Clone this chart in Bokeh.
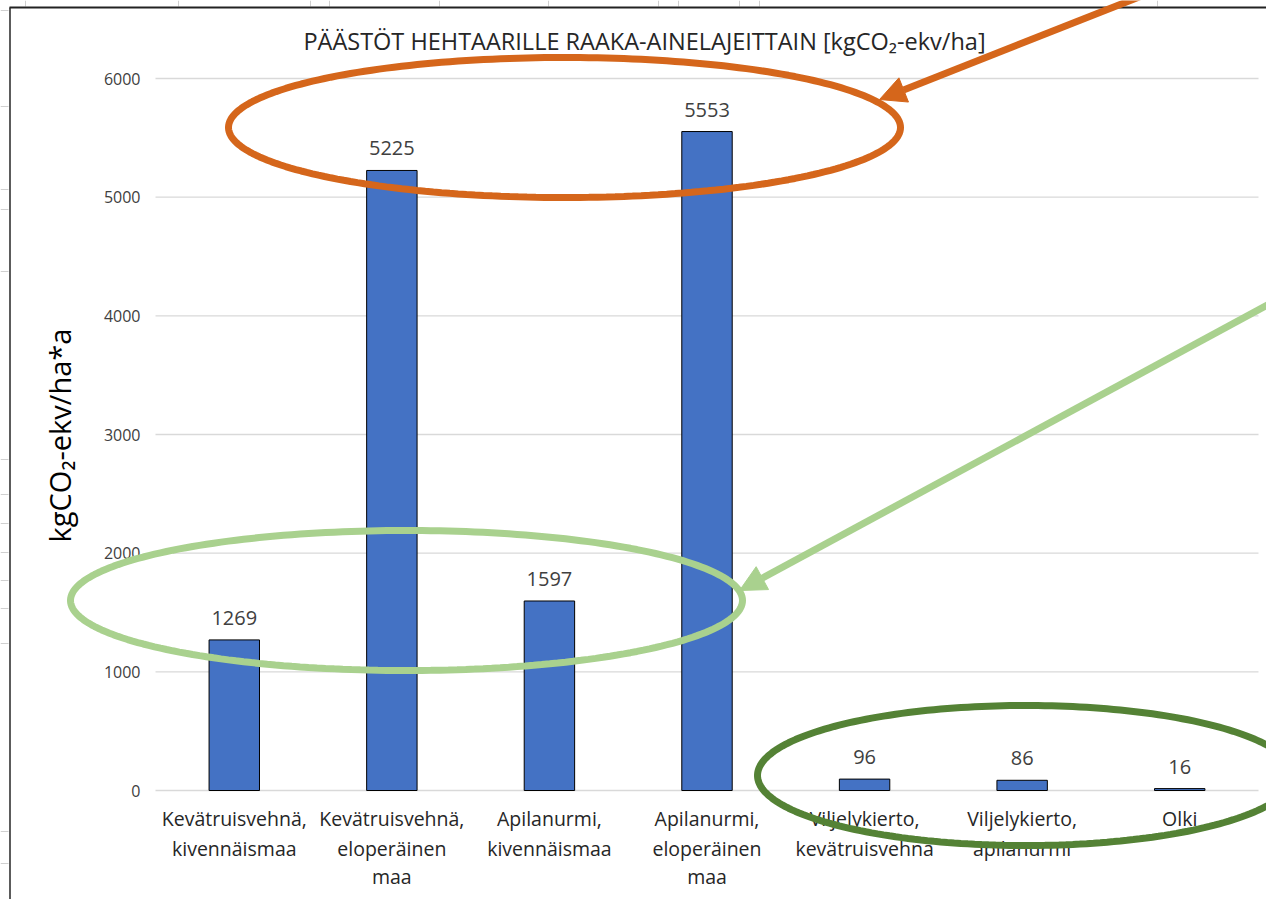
import numpy as np
from bokeh.plotting import figure
from bokeh.models import (ColumnDataSource, LabelSet, Label, PolyAnnotation, Arrow,
                          NormalHead, Range1d)
from bokeh.core.properties import value
from bokeh.embed import file_html
from bokeh.resources import INLINE

# ---- data ----
categories = [
    "Kevätruisvehnä,\nkivennäismaa",
    "Kevätruisvehnä,\neloperäinen\nmaa",
    "Apilanurmi,\nkivennäismaa",
    "Apilanurmi,\neloperäinen\nmaa",
    "Viljelykierto,\nkevätruisvehnä",
    "Viljelykierto,\napilanurmi",
    "Olki",
]
values = [1269, 5225, 1597, 5553, 96, 86, 16]
value_labels = [str(v) for v in values]
y_ticks = [0, 1000, 2000, 3000, 4000, 5000, 6000]
y_tick_labels = [str(t) for t in y_ticks]
title_text = "PÄÄSTÖT HEHTAARILLE RAAKA-AINELAJEITTAIN [kgCO₂-ekv/ha]"
y_title = "kgCO₂-ekv/ha*a"

FONT = "Open Sans"
W, H = 1266, 899
FRAME_L, FRAME_R, FRAME_T, FRAME_B = 155, 1258, 78, 790   # chart area, canvas px
N = len(categories)
CW = (FRAME_R - FRAME_L) / N
YMAX = 6000

def cx(px):  # canvas px -> x data
    return (px - FRAME_L) / CW
def cy(py):  # canvas py -> y data
    return (FRAME_B - py) * YMAX / (FRAME_B - FRAME_T)

xpos = [i + 0.5 for i in range(N)]
cat_lines = [c.split("\n") for c in categories]
line1 = [c[0] if len(c) > 0 else "" for c in cat_lines]
line2 = [c[1] if len(c) > 1 else "" for c in cat_lines]
line3 = [c[2] if len(c) > 2 else "" for c in cat_lines]
src = ColumnDataSource(dict(x=xpos, cat=categories, val=values, lbl=value_labels,
                            l1=line1, l2=line2, l3=line3))
tsrc = ColumnDataSource(dict(y=y_ticks, lbl=y_tick_labels))

p = figure(width=W, height=H,
           x_range=Range1d(cx(0), cx(W)), y_range=Range1d(cy(H), cy(0)),
           x_axis_location=None, y_axis_location=None,
           output_backend="svg", toolbar_location=None,
           min_border=0, min_border_left=0, min_border_right=0,
           min_border_top=0, min_border_bottom=0)
p.outline_line_color = None
p.background_fill_color = "white"
p.border_fill_color = "white"
p.xgrid.visible = False
p.ygrid.visible = False

# gridlines
p.segment(x0=0, x1=N, y0="y", y1="y", source=tsrc, line_color="#D9D9D9", line_width=1.3)
# y tick labels
p.add_layout(LabelSet(x=cx(140), y="y", text="lbl", source=tsrc,
                      text_align="right", text_baseline="middle",
                      text_font=value(FONT), text_font_size="16px", text_color="#404040"))

# bars
p.vbar(x="x", top="val", width=0.32, source=src,
       fill_color="#4472C4", line_color="black", line_width=1)

# data labels
p.add_layout(LabelSet(x="x", y="val", text="lbl", source=src, y_offset=22,
                      text_align="center", text_baseline="middle",
                      text_font=value(FONT), text_font_size="20px",
                      text_color="#404040"))

# category labels, one centred line at a time
for field, off in (("l1", -28), ("l2", -58), ("l3", -86)):
    p.add_layout(LabelSet(x="x", y=0, text=field, source=src, y_offset=off,
                          text_align="center", text_baseline="middle",
                          text_font=value(FONT), text_font_size="19.5px",
                          text_color="#262626"))

# title and y-axis title
p.add_layout(Label(x=cx(644), y=cy(40), text=title_text,
                   text_align="center", text_baseline="middle",
                   text_font=FONT, text_font_size="23.5px", text_color="#262626"))
p.add_layout(Label(x=cx(59), y=cy(435), text=y_title, angle=np.pi / 2,
                   text_align="center", text_baseline="middle",
                   text_font=FONT, text_font_size="29px", text_color="black"))

# frame lines of the original screenshot
def line(x0, y0, x1, y1, color, width):
    p.add_layout(Arrow(end=None, x_start=x0, y_start=y0, x_end=x1, y_end=y1,
                       start_units="canvas", end_units="canvas",
                       line_color=color, line_width=width))

for ty in [10, 106, 189, 209, 271, 459, 494, 523, 552, 580, 608, 643, 831, 863]:
    line(0, ty, 8, ty, "#D0D0D0", 1)
for tx in [25, 178, 310, 329, 439, 548, 658, 678, 739, 759, 1157]:
    line(tx, 0, tx, 6, "#D0D0D0", 1)
line(9.5, 7, 9.5, 905, "#333333", 1.6)
line(9, 7, 1270, 7, "#222222", 2)

# annotation ellipses
def ellipse(ex, ey, rx, ry, color):
    t = np.linspace(0, 2 * np.pi, 240)
    p.add_layout(PolyAnnotation(xs=list(ex + rx * np.cos(t)), ys=list(ey + ry * np.sin(t)),
                                fill_alpha=0, line_alpha=1, line_color=color, line_width=7,
                                xs_units="canvas", ys_units="canvas"))

ORANGE = "#D5661B"
LGREEN = "#A9D18E"
DGREEN = "#548235"
ellipse(564, 127, 336, 70, ORANGE)
ellipse(406, 600, 336, 70, LGREEN)
ellipse(1025, 775, 268, 70, DGREEN)

def arrow(x0, y0, x1, y1, color):
    p.add_layout(Arrow(end=NormalHead(size=26, fill_color=color, line_color=color, line_width=1),
                       x_start=x0, y_start=y0, x_end=x1, y_end=y1,
                       start_units="canvas", end_units="canvas",
                       line_color=color, line_width=7))

arrow(1150, -8, 879, 99, ORANGE)
arrow(1290, 292, 739, 590, LGREEN)

open("out.html", "w").write(file_html(p, INLINE))
